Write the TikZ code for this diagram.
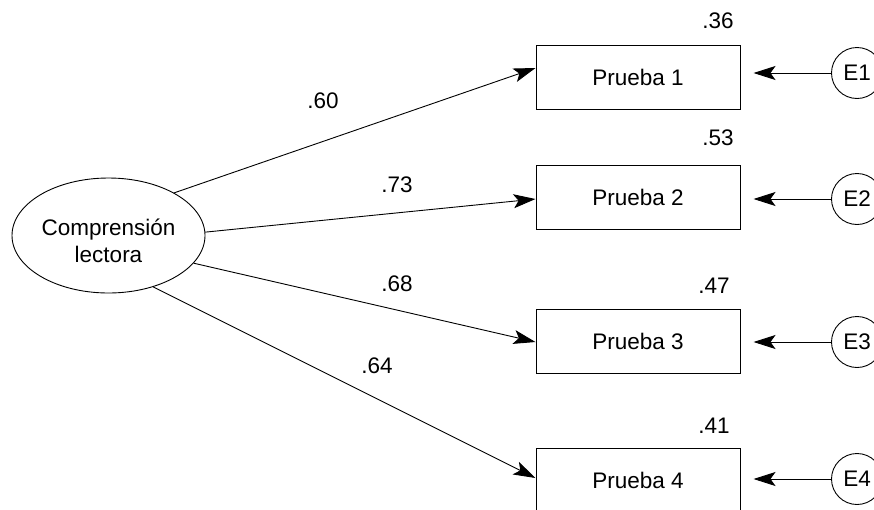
\documentclass[tikz,border=0pt]{standalone}
\usepackage{fontspec}
\setmainfont{Liberation Sans}
\usetikzlibrary{arrows.meta,shapes.geometric,calc}
\tikzset{
  every node/.style={font=\fontsize{22.5}{27}\selectfont},
  obs/.style={draw, line width=1pt, minimum width=204pt, minimum height=64pt, inner sep=0pt},
  err/.style={draw, circle, line width=0.9pt, minimum size=51pt, inner sep=0pt},
  lat/.style={draw, ellipse, line width=0.9pt, minimum width=193pt, minimum height=115pt, inner sep=0pt, align=center},
  val/.style={anchor=base, inner sep=0pt},
  path/.style={line width=0.9pt, -{Stealth[length=22pt, width=14pt, inset=5pt]}},
}
\begin{document}
\begin{tikzpicture}[x=1pt,y=-1pt]
\useasboundingbox (0,0) rectangle (874,509);
\node[lat] (cl) at (108.5,235.5) {\rule{0pt}{27pt}Comprensión\\lectora};
\node[obs] (p1) at (638,77) {Prueba 1};
\node[obs] (p2) at (638,197) {Prueba 2};
\node[obs] (p3) at (638,341) {Prueba 3};
\node[obs] (p4) at (638,480) {Prueba 4};
\node[err] (e1) at (857,73) {E1};
\node[err] (e2) at (857,199) {E2};
\node[err] (e3) at (857,342) {E3};
\node[err] (e4) at (857,479) {E4};
\draw[path] (cl.33.4) -- ($(p1.west)+(0,-9)$);
\draw[path] (cl.2.1) -- ($(p2.west)+(0,2)$);
\draw[path] (cl.-18.2) -- ($(p3.west)+(0,1)$);
\draw[path] (cl.-49.8) -- ($(p4.west)+(0,-2)$);
\draw[path, shorten >=13pt] (e1) -- (e1 -| p1.east);
\draw[path, shorten >=13pt] (e2) -- (e2 -| p2.east);
\draw[path, shorten >=13pt] (e3) -- (e3 -| p3.east);
\draw[path, shorten >=13pt] (e4) -- (e4 -| p4.east);
\node[val] (l1) at (323,108) {.60};
\node[val] (l2) at (397,192) {.73};
\node[val] (l3) at (397,291) {.68};
\node[val] (l4) at (377,373) {.64};
\node[val] (r1) at (718,28) {.36};
\node[val] (r2) at (718,145) {.53};
\node[val] (r3) at (714,293) {.47};
\node[val] (r4) at (714,433) {.41};
\end{tikzpicture}
\end{document}
